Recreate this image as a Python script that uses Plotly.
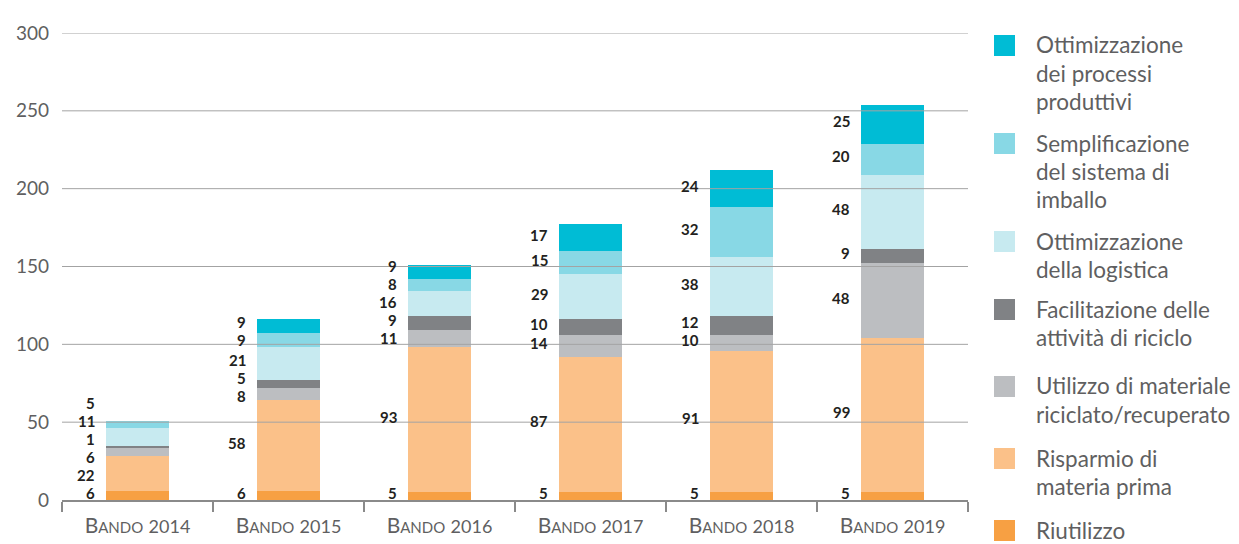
import plotly.graph_objects as go

# Categories and series (stacked bottom to top)
years = ["2014", "2015", "2016", "2017", "2018", "2019"]
categories = ["Bando " + y for y in years]

riutilizzo = [6, 6, 5, 5, 5, 5]
risparmio = [22, 58, 93, 87, 91, 99]
utilizzo = [6, 8, 11, 14, 10, 48]
facilitazione = [1, 5, 9, 10, 12, 9]
logistica = [11, 21, 16, 29, 38, 48]
semplificazione = [5, 9, 8, 15, 32, 20]
processi = [0, 9, 9, 17, 24, 25]

series = [
    ("Riutilizzo", riutilizzo, "#f7a043"),
    ("Risparmio di materia prima", risparmio, "#fbc189"),
    ("Utilizzo di materiale riciclato/recuperato", utilizzo, "#bcbec1"),
    ("Facilitazione delle attività di riciclo", facilitazione, "#808285"),
    ("Ottimizzazione della logistica", logistica, "#c7eaf0"),
    ("Semplificazione del sistema di imballo", semplificazione, "#88d8e5"),
    ("Ottimizzazione dei processi produttivi", processi, "#00bcd5"),
]

# Legend entries, top to bottom, with their wrapped lines
legend_lines = [
    (["Ottimizzazione", "dei processi", "produttivi"], "#00bcd5"),
    (["Semplificazione", "del sistema di", "imballo"], "#88d8e5"),
    (["Ottimizzazione", "della logistica"], "#c7eaf0"),
    (["Facilitazione delle", "attività di riciclo"], "#808285"),
    (["Utilizzo di materiale", "riciclato/recuperato"], "#bcbec1"),
    (["Risparmio di", "materia prima"], "#fbc189"),
    (["Riutilizzo"], "#f7a043"),
]

y_ticks = [0, 50, 100, 150, 200, 250, 300]

W, H = 1239, 544
M_L, M_R, M_T, M_B = 62, 271, 33, 44
PLOT_W = W - M_L - M_R
PLOT_H = H - M_T - M_B
Y_MAX = 300
BAR_FRAC = 0.42
PX_PER_UNIT = PLOT_H / Y_MAX

TEXT_GRAY = "#5f5f61"
LABEL_DARK = "#231f20"
GRID = "#a3a3a3"

LABEL_SIZE = 15
LABEL_GAP_PX = 18


def px_x(px):
    return (px - M_L) / PLOT_W


def px_y(py):
    return (H - M_B - py) / PLOT_H


def spread_labels(centers, gap):
    """Push overlapping value labels apart, keeping each cluster centred."""
    groups = [[c] for c in centers]

    def place(g):
        m = sum(g) / len(g)
        start = m - gap * (len(g) - 1) / 2
        return [start + gap * k for k in range(len(g))]

    changed = True
    while changed:
        changed = False
        pos = [place(g) for g in groups]
        for i in range(len(groups) - 1):
            if pos[i][-1] + gap > pos[i + 1][0] + 1e-9:
                groups[i] = groups[i] + groups[i + 1]
                del groups[i + 1]
                changed = True
                break
    out = []
    for g in groups:
        out.extend(place(g))
    return out


fig = go.Figure()
for name, vals, color in series:
    fig.add_trace(go.Bar(
        x=categories, y=vals, name=name,
        marker=dict(color=color, line=dict(width=0)),
        showlegend=False, hoverinfo="x+y+name",
    ))

annotations = []
shapes = []

# Value labels to the left of each bar, centred on their segment
bar_half_px = BAR_FRAC * (PLOT_W / len(categories)) / 2
for ci, cat in enumerate(categories):
    base = 0
    centers, texts = [], []
    for name, vals, color in series:
        v = vals[ci]
        if v > 0:
            centers.append(base + v / 2)
            texts.append(str(v))
        base += v
    ys = spread_labels(centers, LABEL_GAP_PX / PX_PER_UNIT)
    lowest = (LABEL_GAP_PX / 2 - 2) / PX_PER_UNIT
    if ys and ys[0] < lowest:
        shift = lowest - ys[0]
        ys = [y + shift for y in ys]
    for yv, t in zip(ys, texts):
        annotations.append(dict(
            x=cat, y=yv, xref="x", yref="y", text="<b>" + t + "</b>",
            showarrow=False, xanchor="right", yanchor="middle",
            xshift=-(bar_half_px + 9),
            font=dict(family="Lato", size=LABEL_SIZE, color=LABEL_DARK),
        ))

# Gridlines drawn over the bars
for t in y_ticks[1:]:
    shapes.append(dict(
        type="line", xref="paper", yref="y", x0=0, x1=1, y0=t, y1=t,
        line=dict(color=GRID, width=1), layer="above",
    ))

# Legend on the right
leg_sq_x0 = 994
leg_sq_size = 21
leg_text_x = 1034
line_h = 28
first_line_y = [45, 143, 241, 309, 386, 458, 530]
for (lines, color), y0 in zip(legend_lines, first_line_y):
    shapes.append(dict(
        type="rect", xref="paper", yref="paper",
        x0=px_x(leg_sq_x0), x1=px_x(leg_sq_x0 + leg_sq_size),
        y0=px_y(y0 - 10), y1=px_y(y0 - 10 + leg_sq_size),
        fillcolor=color, line=dict(width=0),
    ))
    for k, ln in enumerate(lines):
        annotations.append(dict(
            x=px_x(leg_text_x), y=px_y(y0 + line_h * k),
            xref="paper", yref="paper", text=ln, showarrow=False,
            xanchor="left", yanchor="middle",
            font=dict(family="Lato", size=22.5, color=TEXT_GRAY),
        ))

tick_text = [
    "B<span style='font-size:15px'>ANDO</span> <span style='font-size:18px'>" + y + "</span>"
    for y in years
]

fig.update_layout(
    width=W, height=H,
    margin=dict(l=M_L, r=M_R, t=M_T, b=M_B, pad=0, autoexpand=False),
    paper_bgcolor="white", plot_bgcolor="white",
    barmode="stack", bargap=1 - BAR_FRAC,
    font=dict(family="Lato", color=TEXT_GRAY),
    annotations=annotations, shapes=shapes,
    xaxis=dict(
        type="category", tickvals=categories, ticktext=tick_text,
        tickson="boundaries", ticks="outside", ticklen=10, tickwidth=1.5,
        tickcolor="#8a8a8a", ticklabelstandoff=6, automargin=False,
        showline=True, linecolor="#8a8a8a", linewidth=2,
        showgrid=False, tickfont=dict(family="Lato", size=21, color=TEXT_GRAY),
    ),
    yaxis=dict(
        range=[0, Y_MAX], tickvals=y_ticks, showgrid=False, zeroline=False,
        showline=False, ticks="", ticklabelstandoff=12, automargin=False,
        tickfont=dict(family="Lato", size=19, color=TEXT_GRAY),
    ),
)

fig.write_html("out.html")
